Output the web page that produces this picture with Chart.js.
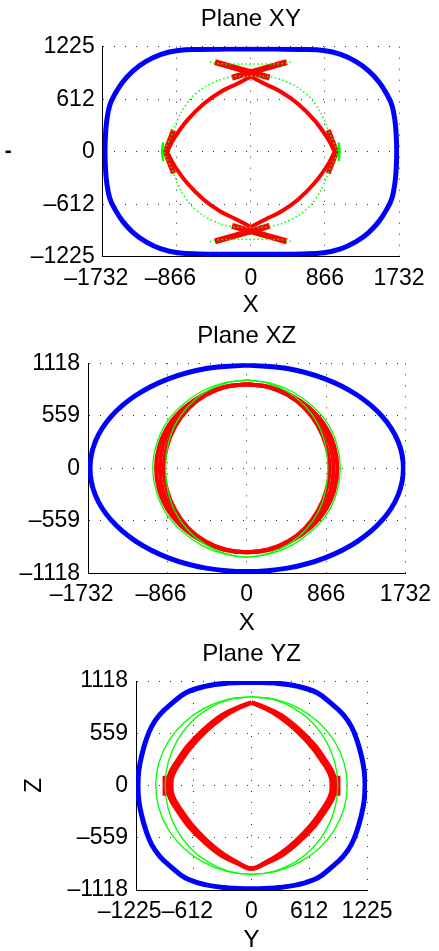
<!DOCTYPE html>
<html>
<head>
<meta charset="utf-8">
<script src="https://cdn.jsdelivr.net/npm/chart.js@4.4.1/dist/chart.umd.min.js"></script>
<style>
body { margin:0; background:#fff; overflow:hidden; }
canvas { position:absolute; left:0; }
</style>
</head>
<body>
<canvas id="planeXY" width="439" height="320" style="top:0px"></canvas>
<canvas id="planeXZ" width="439" height="320" style="top:320px"></canvas>
<canvas id="planeYZ" width="439" height="320" style="top:640px"></canvas>
<script>
// tick values
var ticksX = [-1732, -866, 0, 866, 1732];
var ticksY = [-1225, -612, 0, 612, 1225];
var ticksZ = [-1118, -559, 0, 559, 1118];

// ---- Plane XY (x, y) ----
var blueXY = [[0,1197],[300,1197],[600,1193],[850,1180],[1050,1135],[1230,1050],[1380,940],[1500,810],[1590,670],[1650,540],[1685,360],[1700,180],[1705,0],
  [1700,-180],[1685,-360],[1650,-540],[1590,-670],[1500,-810],[1380,-940],[1230,-1050],[1050,-1135],[850,-1180],[600,-1193],[300,-1197],[0,-1197],
  [-300,-1197],[-600,-1193],[-850,-1180],[-1050,-1135],[-1230,-1050],[-1380,-940],[-1500,-810],[-1590,-670],[-1650,-540],[-1685,-360],[-1700,-180],[-1705,0],
  [-1700,180],[-1685,360],[-1650,540],[-1590,670],[-1500,810],[-1380,940],[-1230,1050],[-1050,1135],[-850,1180],[-600,1193],[-300,1197],[0,1197]];
var redXYArc1 = [[0,878],[161,793],[355,697],[550,560],[745,366],[900,152],[980,0]];
var redXYArc2 = [[980,0],[900,-152],[745,-366],[550,-560],[355,-697],[161,-793],[0,-878]];
var redXYArc3 = [[0,-878],[-161,-793],[-355,-697],[-550,-560],[-745,-366],[-900,-152],[-980,0]];
var redXYArc4 = [[-980,0],[-900,152],[-745,366],[-550,560],[-355,697],[-161,793],[0,878]];
var redXYBars = [
  [[-420,1045],[220,865]], [[420,1045],[-220,865]],
  [[-420,-1045],[220,-865]], [[420,-1045],[-220,-865]]
];
var redXYTips = [[[904,253],[1002,0],[904,-253]], [[-904,253],[-1002,0],[-904,-253]]];
var greenXYLoop = [[0,883],[239,870],[457,798],[640,680],[764,541],[850,385],[904,253],[960,120],[1010,0],
  [960,-120],[904,-253],[850,-385],[764,-541],[640,-680],[457,-798],[239,-870],[0,-883],
  [-239,-870],[-457,-798],[-640,-680],[-764,-541],[-850,-385],[-904,-253],[-960,-120],[-1010,0],
  [-960,120],[-904,253],[-850,385],[-764,541],[-640,680],[-457,798],[-239,870],[0,883]];
var greenXYTop = [[-480,1050],[-400,1030],[-200,1023],[0,1023],[200,1023],[400,1030],[480,1050]];
var greenXYBottom = [[-480,-1050],[-400,-1030],[-200,-1023],[0,-1023],[200,-1023],[400,-1030],[480,-1050]];
var greenXYSides = [[[1025,110],[1038,0],[1025,-110]], [[-1025,110],[-1038,0],[-1025,-110]]];

// ---- Plane XZ (x, z) ----
var blueXZ = [[0,1100],[443,1063],[855,953],[1209,778],[1481,550],[1652,285],[1710,0],[1652,-285],[1481,-550],[1209,-778],[855,-953],[443,-1063],[0,-1100],
  [-443,-1063],[-855,-953],[-1209,-778],[-1481,-550],[-1652,-285],[-1710,0],[-1652,285],[-1481,550],[-1209,778],[-855,953],[-443,1063],[0,1100]];
var redXZInner = [[0,895],[233,865],[450,777],[636,636],[777,450],[869,233],[905,0],[869,-233],[777,-450],[636,-636],[450,-777],[233,-865],[0,-893],
  [-233,-865],[-450,-777],[-636,-636],[-777,-450],[-869,-233],[-905,0],[-869,233],[-777,450],[-636,636],[-450,777],[-233,865],[0,895]];
var redXZMid = [[0,895],[240,866],[462,780],[660,640],[815,455],[915,235],[948,0],[915,-235],[815,-455],[660,-640],[462,-780],[240,-866],[0,-893],
  [-240,-866],[-462,-780],[-660,-640],[-815,-455],[-915,-235],[-948,0],[-915,235],[-815,455],[-660,640],[-462,780],[-240,866],[0,895]];
var redXZOuter = [[0,895],[250,867],[475,782],[684,644],[850,460],[955,237],[990,0],[955,-237],[850,-460],[684,-644],[475,-782],[250,-867],[0,-893],
  [-250,-867],[-475,-782],[-684,-644],[-850,-460],[-955,-237],[-990,0],[-955,237],[-850,460],[-684,644],[-475,782],[-250,867],[0,895]];
var greenXZOuter = [[0,940],[250,910],[490,820],[710,668],[880,480],[985,250],[1022,0],[985,-250],[880,-480],[710,-668],[490,-820],[250,-912],[0,-945],
  [-250,-912],[-490,-820],[-710,-668],[-880,-480],[-985,-250],[-1025,0],[-985,250],[-880,480],[-710,668],[-490,820],[-250,910],[0,940]];
var greenXZInner = [[0,940],[235,905],[455,810],[640,660],[780,465],[860,240],[885,0],[860,-240],[780,-465],[640,-660],[455,-810],[235,-907],[0,-945],
  [-235,-907],[-455,-810],[-640,-660],[-780,-465],[-860,-240],[-885,0],[-860,240],[-780,465],[-640,660],[-455,810],[-235,905],[0,940]];

// ---- Plane YZ (y, z) ----
var blueYZ = [[0,1105],[250,1096],[493,1061],[700,990],[860,865],[975,755],[1060,630],[1120,480],[1165,320],[1195,160],[1204,0],
  [1195,-160],[1165,-320],[1120,-480],[1060,-630],[975,-755],[860,-865],[700,-990],[493,-1061],[250,-1096],[0,-1105],
  [-250,-1096],[-493,-1061],[-700,-990],[-860,-865],[-975,-755],[-1060,-630],[-1120,-480],[-1165,-320],[-1195,-160],[-1204,0],
  [-1195,160],[-1165,320],[-1120,480],[-1060,630],[-975,755],[-860,865],[-700,990],[-493,1061],[-250,1096],[0,1105]];
var redYZOuter = [[0,888],[150,830],[316,750],[493,610],[670,430],[790,260],[860,140],[895,0],[860,-140],[790,-260],[670,-430],[493,-610],[316,-750],[150,-830],[0,-888],
  [-150,-830],[-316,-750],[-493,-610],[-670,-430],[-790,-260],[-860,-140],[-895,0],[-860,140],[-790,260],[-670,430],[-493,610],[-316,750],[-150,830],[0,888]];
var redYZInner = [[0,888],[150,825],[300,735],[470,595],[640,415],[760,245],[830,125],[860,0],[830,-125],[760,-245],[640,-415],[470,-595],[300,-735],[150,-825],[0,-888],
  [-150,-825],[-300,-735],[-470,-595],[-640,-415],[-760,-245],[-830,-125],[-860,0],[-830,125],[-760,245],[-640,415],[-470,595],[-300,735],[-150,825],[0,888]];
var redYZBlocks = [[[885,105],[885,-110]], [[-885,105],[-885,-110]]];
var greenYZOuter = [[0,950],[263,918],[508,823],[718,672],[880,475],[981,246],[1016,0],[981,-246],[880,-475],[718,-672],[508,-823],[263,-918],[0,-950],
  [-263,-918],[-508,-823],[-718,-672],[-880,-475],[-981,-246],[-1016,0],[-981,246],[-880,475],[-718,672],[-508,823],[-263,918],[0,950]];
var greenYZInner = [[0,950],[237,918],[457,823],[647,672],[792,475],[884,246],[915,0],[884,-246],[792,-475],[647,-672],[457,-823],[237,-918],[0,-950],
  [-237,-918],[-457,-823],[-647,-672],[-792,-475],[-884,-246],[-915,0],[-884,246],[-792,475],[-647,672],[-457,823],[-237,918],[0,950]];

var BLUE = '#0000ff', RED = '#ff0000', GREEN = '#00ff00';
var FONT = 'Liberation Sans, Arial, Helvetica, sans-serif';
Chart.defaults.font.family = FONT;
Chart.defaults.color = '#000';

function curve(pts, color, width, order, extra) {
  var ds = {
    data: pts.map(function(p){ return {x: p[0], y: p[1]}; }),
    showLine: true, borderColor: color, borderWidth: width,
    pointRadius: 0, pointHoverRadius: 0, tension: 0.4, fill: false, order: order
  };
  for (var k in extra) ds[k] = extra[k];
  return ds;
}

function fmt(v, pad) {
  if (v < 0) return '\u2013' + Math.abs(v) + (pad ? '  ' : '');
  return String(v);
}

function axis(ticks, size, isX, title) {
  return {
    type: 'linear', min: ticks[0], max: ticks[ticks.length - 1],
    afterBuildTicks: function(s){ s.ticks = ticks.map(function(v){ return {value: v}; }); },
    afterFit: function(s){ if (isX) s.height = size; else s.width = size; },
    ticks: {
      font: {size: 23}, color: '#000', padding: 8,
      maxRotation: 0, autoSkip: false,
      callback: function(v){ return fmt(v, isX); }
    },
    grid: {color: '#333', lineWidth: 1, drawTicks: false},
    border: {color: '#000', width: 1, dash: [1, 10]},
    title: title
  };
}

function makeChart(id, name, sets, xt, yt, box) {
  new Chart(document.getElementById(id), {
    type: 'scatter',
    data: {datasets: sets},
    options: {
      responsive: false, animation: false, events: [],
      layout: {padding: {left: 0, right: box.right, top: 0, bottom: 0}},
      plugins: {
        legend: {display: false}, tooltip: {enabled: false},
        title: {display: true, text: name, fullSize: false, color: '#000',
          font: {size: 24, weight: 'normal'}, padding: {top: box.tTop, bottom: box.tBottom}}
      },
      scales: {
        x: axis(xt, box.xh, true, box.xTitle),
        y: axis(yt, box.yw, false, box.yTitle)
      }
    }
  });
}

var setsXY = [
  curve(blueXY, BLUE, 5, 2),
  curve(redXYArc1, RED, 4, 1), curve(redXYArc2, RED, 4, 1),
  curve(redXYArc3, RED, 4, 1), curve(redXYArc4, RED, 4, 1),
  curve(greenXYLoop, GREEN, 1.5, 0, {borderDash: [1.5, 2.5]}),
  curve(greenXYTop, GREEN, 1.5, 0, {borderDash: [1.5, 2.5]}),
  curve(greenXYBottom, GREEN, 1.5, 0, {borderDash: [1.5, 2.5]})
];
redXYBars.forEach(function(b){ setsXY.push(curve(b, RED, 6, 1, {tension: 0})); });
redXYTips.forEach(function(b){ setsXY.push(curve(b, RED, 5, 1, {tension: 0})); });
greenXYSides.forEach(function(b){ setsXY.push(curve(b, GREEN, 2.5, 0)); });

var setsXZ = [
  curve(blueXZ, BLUE, 5, 2),
  curve(redXZInner, RED, 4, 1), curve(redXZMid, RED, 4, 1), curve(redXZOuter, RED, 4, 1),
  curve(greenXZOuter, GREEN, 1.3, 0), curve(greenXZInner, GREEN, 1.3, 0)
];

var setsYZ = [
  curve(blueYZ, BLUE, 5, 2),
  curve(redYZOuter, RED, 4.5, 1), curve(redYZInner, RED, 4.5, 1),
  curve(greenYZOuter, GREEN, 1.3, 0), curve(greenYZInner, GREEN, 1.3, 0)
];
redYZBlocks.forEach(function(b){ setsYZ.push(curve(b, RED, 11, 1, {tension: 0})); });

makeChart('planeXY', 'Plane XY', setsXY, ticksX, ticksY, {
  right: 40, tTop: 4.8, tBottom: 13.1, xh: 63.3, yw: 102.7,
  xTitle: {display: true, text: 'X', font: {size: 24}, padding: {top: 0, bottom: 0}},
  yTitle: {display: true, text: '\u25AE', font: {size: 7, family: 'DejaVu Sans'}, padding: {top: 3.8, bottom: 0}}
});
makeChart('planeXZ', 'Plane XZ', setsXZ, ticksX, ticksZ, {
  right: 25, tTop: 2.2, tBottom: 12.3, xh: 66.7, yw: 88,
  xTitle: {display: true, text: 'X', font: {size: 24}, padding: {top: 0, bottom: 2.3}},
  yTitle: {display: false}
});
makeChart('planeYZ', 'Plane YZ', setsYZ, ticksY, ticksZ, {
  right: 72, tTop: 0, tBottom: 12.2, xh: 70, yw: 136,
  xTitle: {display: true, text: 'Y', font: {size: 24}, padding: {top: 0, bottom: 5.6}},
  yTitle: {display: true, text: 'Z', font: {size: 24}, padding: {top: 20.3, bottom: 0}}
});
</script>
</body>
</html>
